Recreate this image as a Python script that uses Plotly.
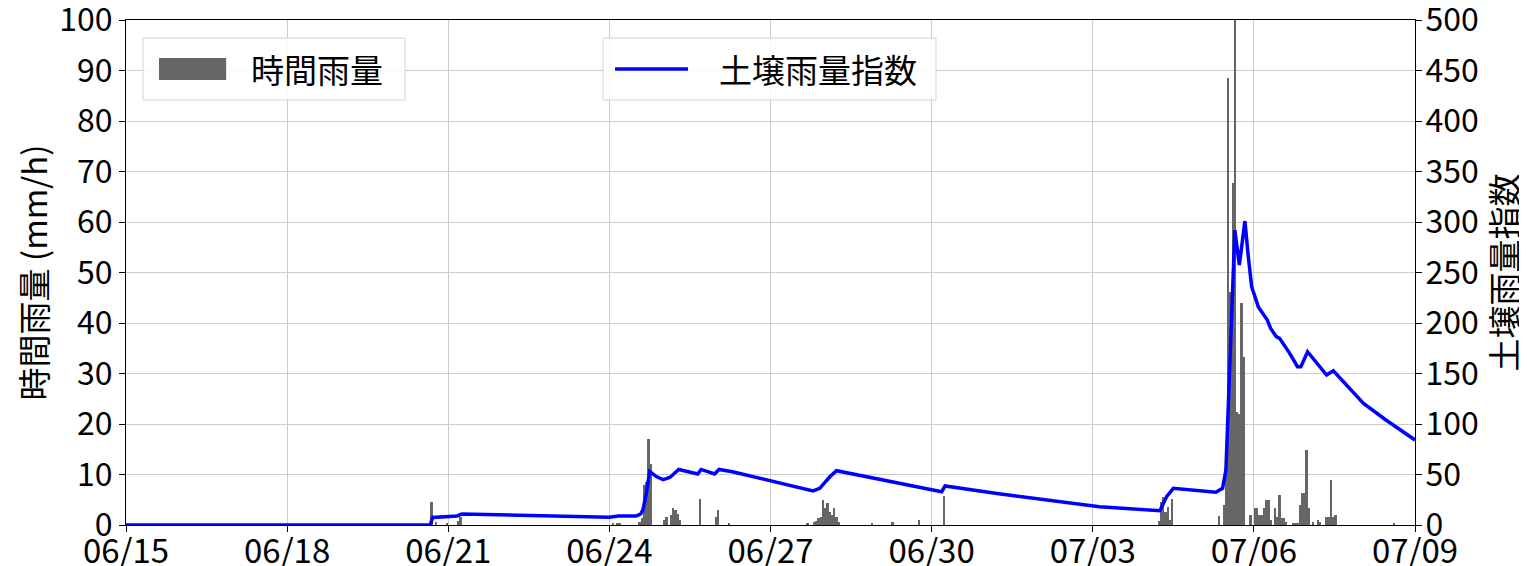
import pandas as pd
import plotly.graph_objects as go

YEAR = "2020"

# Hourly rainfall (mm/h) – only non-zero hours
rain_time = [
    "06-20 16:00", "06-20 18:00", "06-20 23:00", "06-21 04:00", "06-21 05:00",
    "06-24 01:00", "06-24 03:00", "06-24 04:00", "06-24 13:00", "06-24 14:00",
    "06-24 15:00", "06-24 16:00", "06-24 17:00", "06-24 18:00",
    "06-25 00:00", "06-25 01:00", "06-25 03:00", "06-25 04:00", "06-25 05:00",
    "06-25 06:00", "06-25 07:00", "06-25 16:00", "06-25 23:00", "06-26 00:00",
    "06-26 05:00", "06-27 16:00", "06-27 19:00", "06-27 20:00", "06-27 21:00",
    "06-27 22:00", "06-27 23:00", "06-28 00:00", "06-28 01:00", "06-28 02:00",
    "06-28 03:00", "06-28 04:00", "06-28 05:00", "06-28 06:00", "06-28 21:00",
    "06-29 06:00", "06-29 18:00", "06-30 05:00",
    "07-04 05:00", "07-04 06:00", "07-04 07:00", "07-04 08:00", "07-04 09:00",
    "07-04 10:00", "07-04 11:00",
    "07-05 08:00", "07-05 10:00", "07-05 11:00", "07-05 12:00", "07-05 13:00",
    "07-05 14:00", "07-05 15:00", "07-05 16:00", "07-05 17:00", "07-05 18:00",
    "07-05 19:00", "07-05 22:00",
    "07-06 00:00", "07-06 01:00", "07-06 02:00", "07-06 03:00", "07-06 04:00",
    "07-06 05:00", "07-06 06:00", "07-06 07:00", "07-06 09:00", "07-06 10:00",
    "07-06 11:00", "07-06 12:00", "07-06 13:00", "07-06 14:00", "07-06 17:00",
    "07-06 18:00", "07-06 19:00", "07-06 20:00", "07-06 21:00", "07-06 22:00",
    "07-06 23:00", "07-07 00:00", "07-07 02:00", "07-07 04:00", "07-07 05:00",
    "07-07 08:00", "07-07 09:00", "07-07 10:00", "07-07 11:00", "07-07 12:00",
    "07-08 14:00",
]
rain_mm = [
    4.6, 0.5, 0.3, 0.8, 1.5,
    0.3, 0.3, 0.3, 0.5, 1.3,
    8.0, 8.5, 17.0, 12.0,
    1.0, 1.5, 2.0, 3.4, 3.0,
    2.2, 1.0, 5.1, 1.6, 3.0,
    0.3, 0.4, 0.5, 0.8, 1.3,
    1.5, 5.0, 3.3, 4.3, 2.6,
    2.0, 3.3, 1.6, 0.5, 0.4,
    0.6, 1.0, 5.7,
    0.8, 4.5, 5.5, 2.5, 3.6,
    1.0, 5.1,
    1.7, 4.0, 10.0, 88.5, 46.2,
    67.7, 110.0, 22.4, 22.0, 43.9,
    33.3, 2.0,
    3.3, 3.3, 2.0, 2.0, 3.3,
    5.0, 5.0, 1.0, 3.4, 1.6,
    6.0, 1.3, 1.4, 0.5, 0.4,
    0.4, 0.4, 4.0, 6.4, 6.4,
    14.9, 3.3, 0.5, 1.0, 0.5,
    1.5, 1.5, 8.9, 1.5, 2.0,
    0.3,
]

# Soil rainfall index
soil_time = [
    "06-15 00:00", "06-20 16:00", "06-20 17:00", "06-21 02:00", "06-21 04:00",
    "06-21 06:00", "06-24 00:00", "06-24 04:00", "06-24 12:00", "06-24 14:00",
    "06-24 15:00", "06-24 16:30", "06-24 18:00", "06-24 21:00", "06-25 00:00",
    "06-25 03:00", "06-25 07:00", "06-25 15:30", "06-25 17:00", "06-25 23:00",
    "06-26 01:00", "06-26 07:00", "06-27 19:00", "06-27 22:00", "06-28 02:30",
    "06-28 05:30", "06-29 17:00", "06-30 04:30", "06-30 06:00", "07-01 06:00",
    "07-03 03:00", "07-04 06:00", "07-04 09:00", "07-04 12:00", "07-05 07:00",
    "07-05 10:00", "07-05 11:30", "07-05 12:30", "07-05 14:00", "07-05 15:30",
    "07-05 17:30", "07-05 20:00", "07-05 21:30", "07-05 23:00", "07-06 02:00",
    "07-06 06:00", "07-06 07:30", "07-06 10:00", "07-06 11:30", "07-06 16:00",
    "07-06 19:30", "07-06 21:00", "07-07 00:00", "07-07 08:30", "07-07 11:30",
    "07-08 01:00", "07-08 11:00", "07-09 00:00",
]
soil_index = [
    0, 0, 7.5, 8.3, 9.0,
    11.0, 7.6, 8.9, 8.9, 11.0,
    15.0, 31.0, 53.0, 48.0, 45.0,
    47.0, 55.0, 50.5, 55.0, 50.5,
    55.0, 52.8, 33.7, 36.3, 47.8,
    53.8, 37.9, 33.0, 38.6, 31.0,
    18.0, 14.2, 28.0, 36.3, 32.4,
    36.3, 54.5, 113.9, 212.9, 292.0,
    257.5, 301.0, 266.0, 236.0, 216.0,
    203.0, 194.7, 186.5, 184.8, 170.0,
    156.8, 156.8, 171.6, 148.5, 152.8,
    120.5, 104.0, 84.2,
]

x_tick_labels = ["06/15", "06/18", "06/21", "06/24", "06/27", "06/30", "07/03", "07/06", "07/09"]
y_left_ticks = list(range(0, 101, 10))
y_right_ticks = list(range(0, 501, 50))
legend_labels = ["時間雨量", "土壌雨量指数"]

def to_dt(s):
    return pd.to_datetime(f"{YEAR}-{s}", format="%Y-%m-%d %H:%M")

rain_x = [to_dt(s) for s in rain_time]
soil_x = [to_dt(s) for s in soil_time]
tick_vals = [pd.to_datetime(f"{YEAR}-" + t.replace("/", "-")) for t in x_tick_labels]

FONT = "Noto Sans CJK JP"
HOUR_MS = 3600 * 1000
BAR_C = "#666666"
LINE_C = "#0000ff"

fig = go.Figure()
fig.add_trace(go.Bar(
    x=rain_x, y=rain_mm, name=legend_labels[0],
    width=[HOUR_MS] * len(rain_x), offset=0,
    marker=dict(color=BAR_C, line=dict(width=0)),
    yaxis="y", showlegend=False,
))
fig.add_trace(go.Scatter(
    x=soil_x, y=soil_index, name=legend_labels[1], mode="lines",
    line=dict(color=LINE_C, width=3.5),
    yaxis="y2", showlegend=False,
))

# Legend boxes (drawn like matplotlib legends), paper coordinates
def box(x0, x1, y0, y1):
    return dict(type="rect", xref="paper", yref="paper", x0=x0, x1=x1, y0=y0, y1=y1,
                line=dict(color="#d4d4d4", width=1), fillcolor="rgba(255,255,255,0.85)",
                layer="above")

shapes = [
    box(0.0132, 0.2165, 0.8416, 0.9644),
    dict(type="rect", xref="paper", yref="paper", x0=0.0256, x1=0.0777, y0=0.8812, y1=0.9248,
         line=dict(width=0), fillcolor=BAR_C, layer="above"),
    box(0.3701, 0.6284, 0.8416, 0.9644),
    dict(type="line", xref="paper", yref="paper", x0=0.3794, x1=0.4360, y0=0.903, y1=0.903,
         line=dict(color=LINE_C, width=3.5), layer="above"),
]
annotations = [
    dict(text=legend_labels[0], xref="paper", yref="paper", x=0.0955, y=0.903,
         xanchor="left", yanchor="middle", showarrow=False, font=dict(size=33)),
    dict(text=legend_labels[1], xref="paper", yref="paper", x=0.4585, y=0.903,
         xanchor="left", yanchor="middle", showarrow=False, font=dict(size=33)),
]

grid_c = "#cccccc"
# The page body has an 8px margin, so the figure is 8px smaller than the window
fig.update_layout(
    width=1519, height=558,
    margin=dict(l=118, r=112, t=12, b=41, autoexpand=False),
    paper_bgcolor="white", plot_bgcolor="white",
    font=dict(family=FONT, size=30, color="black"),
    bargap=0,
    shapes=shapes, annotations=annotations,
    xaxis=dict(
        range=[tick_vals[0], tick_vals[-1]],
        tickvals=tick_vals, ticktext=x_tick_labels,
        showgrid=True, gridcolor=grid_c, gridwidth=1,
        showline=True, linecolor="black", linewidth=1, mirror=True,
        ticks="outside", ticklen=6, tickcolor="black",
        tickfont=dict(size=33), zeroline=False, automargin=False,
        ticklabeloverflow="allow", ticklabelstandoff=-9,
    ),
    yaxis=dict(
        range=[0, 100.02], tickvals=y_left_ticks,
        showgrid=True, gridcolor=grid_c, gridwidth=1,
        showline=True, linecolor="black", linewidth=1,
        ticks="outside", ticklen=6, tickcolor="black",
        tickfont=dict(size=32), zeroline=False, automargin=False,
        ticklabeloverflow="allow",
        title=dict(text="時間雨量 (mm/h)", font=dict(size=33), standoff=1),
    ),
    yaxis2=dict(
        range=[0, 500.1], tickvals=y_right_ticks,
        overlaying="y", side="right", showgrid=False,
        showline=True, linecolor="black", linewidth=1,
        ticks="outside", ticklen=6, tickcolor="black",
        tickfont=dict(size=32), zeroline=False, automargin=False,
        ticklabeloverflow="allow", ticklabelstandoff=-3,
        title=dict(text="土壌雨量指数", font=dict(size=33), standoff=13),
    ),
    showlegend=False,
)

fig.write_html("out.html")
